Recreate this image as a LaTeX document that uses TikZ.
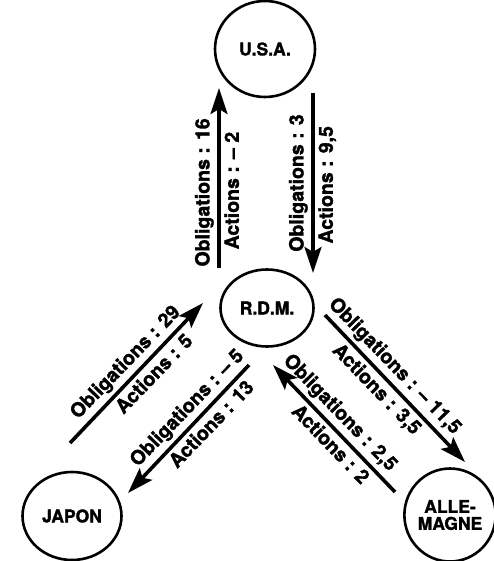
\documentclass[tikz,border=0pt]{standalone}
\usepackage{fontspec}
\setmainfont{TeX Gyre Heros}[BoldFeatures={FakeBold=1.6}]
\usetikzlibrary{shapes.geometric, arrows.meta, calc}

\begin{document}
\begin{tikzpicture}[
    x=1pt, y=-1pt,
    pays/.style={draw, ellipse, line width=2.6pt, inner sep=0pt, align=center,
      font=\fontsize{17.5}{18}\selectfont\bfseries},
    flow/.style={-{Stealth[length=26pt, width=17pt, inset=5pt]}, line width=3.6pt},
    lab/.style={font=\fontsize{19.5}{20}\selectfont\bfseries, inner sep=3.5pt}
  ]
    \useasboundingbox (0,0) rectangle (493,561);

    % Nodes
    \node[pays, minimum width=100pt, minimum height=96pt] (usa) at (265,49) {U.S.A.};
    \node[pays, minimum width=93pt, minimum height=77pt] (rdm) at (267,308) {R.D.M.};
    \node[pays, minimum width=99pt, minimum height=88pt] (japon) at (72,516) {JAPON};
    \node[pays, minimum width=91pt, minimum height=93pt] (allemagne) at (450,515) {ALLE-\\[-1pt]MAGNE};

    % Flows with the U.S.A.
    \draw[flow] ($(rdm)+(-48,-40)$) -- ($(usa)+(-46,39)$)
      node[lab, pos=0.42, rotate=90, anchor=south] {Obligations : 16}
      node[lab, pos=0.43, rotate=90, anchor=north] {Actions : -- 2};
    \draw[flow] ($(usa)+(48,44)$) -- ($(rdm)+(46,-35)$)
      node[lab, pos=0.5, rotate=90, anchor=south] {Obligations : 3}
      node[lab, pos=0.51, rotate=90, anchor=north] {Actions : 9,5};

    % Flows with Japan
    \draw[flow] ($(japon)+(-2,-73)$) -- ($(rdm)+(-64,-5)$)
      node[lab, pos=0.5, rotate=46, anchor=south] {Obligations : 29}
      node[lab, pos=0.56, rotate=46, anchor=north] {Actions : 5};
    \draw[flow] ($(rdm)+(-18,57)$) -- ($(japon)+(56,-23)$)
      node[lab, pos=0.42, rotate=46, anchor=south] {Obligations : -- 5}
      node[lab, pos=0.39, rotate=46, anchor=north] {Actions : 13};

    % Flows with Germany
    \draw[flow] ($(rdm)+(58,7)$) -- ($(allemagne)+(15,-53)$)
      node[lab, pos=0.42, rotate=-46, anchor=south] {Obligations : -- 11,5}
      node[lab, pos=0.44, rotate=-46, anchor=north] {Actions : 3,5};
    \draw[flow] ($(allemagne)+(-55,-23)$) -- ($(rdm)+(6,57)$)
      node[lab, pos=0.54, rotate=-46, anchor=south] {Obligations : 2,5}
      node[lab, pos=0.45, rotate=-46, anchor=north] {Actions : 2};
  \end{tikzpicture}
\end{document}
